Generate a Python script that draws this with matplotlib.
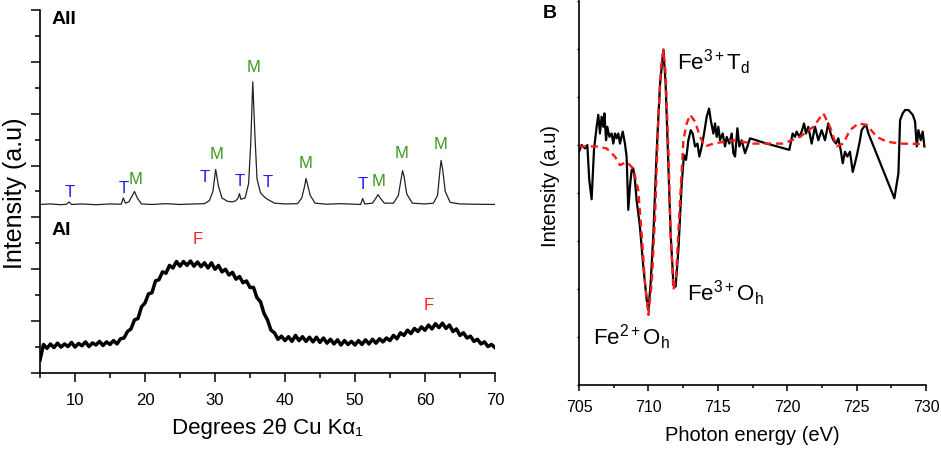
import matplotlib
matplotlib.use("Agg")
import numpy as np
import matplotlib.pyplot as plt
from matplotlib.ticker import MultipleLocator, NullFormatter

plt.rcParams["font.family"] = ["Liberation Sans", "DejaVu Sans"]
plt.rcParams["mathtext.fontset"] = "custom"
plt.rcParams["mathtext.rm"] = "Liberation Sans"
plt.rcParams["mathtext.it"] = "Liberation Sans:italic"
plt.rcParams["mathtext.bf"] = "Liberation Sans:bold"
plt.rcParams["mathtext.default"] = "regular"

# -----------------------------
# Panel A data (XRD patterns)
# -----------------------------

# AII: crystalline sample, offset trace
theta_aii = [5.0, 6.5, 8.0, 8.8, 9.15, 9.5, 11.0, 13.0, 15.0, 16.6, 16.9, 17.2,
             17.7, 18.1, 18.5, 18.9, 19.5, 21.0, 23.0, 25.0, 27.0, 28.5, 29.2,
             29.7, 30.1, 30.5, 31.0, 31.8, 32.5, 33.0, 33.3, 33.5, 33.7, 34.3,
             34.8, 35.1, 35.4, 35.7, 36.0, 36.5, 37.1, 37.5, 38.5, 40.0, 41.8,
             42.4, 42.8, 43.0, 43.2, 43.6, 44.3, 46.0, 48.0, 50.8, 51.1, 51.4,
             52.5, 53.0, 53.3, 53.6, 54.2, 55.5, 56.2, 56.6, 56.8, 57.0, 57.4,
             58.2, 60.0, 61.2, 61.8, 62.1, 62.3, 62.5, 62.9, 63.6, 65.0, 67.0,
             70.0]
int_aii = [6.50, 6.52, 6.49, 6.51, 6.60, 6.50, 6.52, 6.49, 6.52, 6.51, 6.75, 6.55,
           6.60, 6.80, 7.00, 6.75, 6.52, 6.50, 6.53, 6.50, 6.52, 6.53, 6.65,
           7.00, 7.85, 7.20, 6.75, 6.62, 6.60, 6.65, 6.75, 6.92, 6.70, 6.75,
           7.30, 8.80, 11.23, 9.20, 7.50, 6.95, 6.78, 6.70, 6.55, 6.52, 6.53,
           6.75, 7.20, 7.50, 7.30, 6.85, 6.55, 6.51, 6.53, 6.50, 6.73, 6.52,
           6.55, 6.75, 6.88, 6.75, 6.55, 6.55, 6.85, 7.50, 7.80, 7.60, 6.90,
           6.55, 6.52, 6.55, 6.85, 7.70, 8.20, 7.90, 7.00, 6.58, 6.52, 6.51,
           6.50]

# AI: amorphous sample, lower trace (0.5 degree scan steps)
theta_ai = np.arange(5.0, 70.01, 0.5)
int_ai = [0.50, 1.10, 0.95, 1.12, 0.98, 1.15, 1.00, 1.12, 1.02, 1.18,
          1.00, 1.14, 1.05, 1.20, 1.02, 1.16, 1.08, 1.22, 1.06, 1.20,
          1.10, 1.25, 1.12, 1.32, 1.35, 1.60, 1.70, 2.05, 2.10, 2.55,
          2.70, 3.05, 3.10, 3.55, 3.60, 3.90, 3.85, 4.15, 4.05, 4.30,
          4.12, 4.30, 4.15, 4.32, 4.12, 4.28, 4.10, 4.25, 4.05, 4.25,
          4.00, 4.15, 3.90, 4.00, 3.78, 3.88, 3.62, 3.72, 3.48, 3.55,
          3.30, 3.30, 2.90, 2.75, 2.30, 2.05, 1.65, 1.55, 1.30, 1.42,
          1.25, 1.40, 1.22, 1.45, 1.25, 1.40, 1.22, 1.38, 1.20, 1.38,
          1.18, 1.35, 1.15, 1.30, 1.12, 1.28, 1.08, 1.25, 1.10, 1.22,
          1.08, 1.25, 1.10, 1.28, 1.12, 1.30, 1.15, 1.32, 1.20, 1.35,
          1.25, 1.45, 1.32, 1.55, 1.45, 1.65, 1.52, 1.72, 1.60, 1.78,
          1.65, 1.85, 1.70, 1.90, 1.75, 1.92, 1.72, 1.85, 1.60, 1.70,
          1.45, 1.55, 1.35, 1.42, 1.22, 1.30, 1.12, 1.20, 1.02, 1.10,
          0.98]

# phase labels: (2theta, height)
t_labels = [(9.2, 6.96), (16.9, 7.1), (28.6, 7.53), (33.5, 7.4), (37.6, 7.35),
            (51.1, 7.27)]
m_labels = [(18.6, 7.46), (30.2, 8.42), (35.5, 11.77), (43.0, 8.07),
            (53.3, 7.4), (56.6, 8.46), (62.2, 8.8)]
f_labels = [(27.5, 5.15), (60.6, 2.6)]

# -----------------------------
# Panel B data (XMCD spectrum)
# -----------------------------

energy_exp = [705.00, 705.19, 705.43, 705.60, 705.74, 705.91, 706.08, 706.27,
              706.39, 706.51, 706.63, 706.75, 706.83, 706.95, 707.04, 707.19,
              707.35, 707.47, 707.59, 707.71, 707.83, 707.95, 708.15, 708.31,
              708.43, 708.55, 708.67, 708.79, 708.91, 709.03, 709.15, 709.39,
              709.63, 709.88, 710.00, 710.16, 710.36, 710.60, 710.84, 711.08,
              711.24, 711.44, 711.60, 711.80, 711.96, 712.16, 712.40, 712.56,
              712.71, 712.88, 713.05, 713.19, 713.36, 713.53, 713.67, 713.84,
              714.01, 714.20, 714.37, 714.49, 714.68, 714.80, 714.92, 715.04,
              715.16, 715.35, 715.52, 715.64, 715.83, 716.00, 716.12, 716.24,
              716.41, 716.55, 716.72, 716.96, 717.13, 717.32, 718.52, 720.15,
              720.39, 720.56, 720.68, 720.87, 721.04, 721.21, 721.35, 721.52,
              721.76, 722.00, 722.24, 722.48, 722.72, 722.96, 723.13, 723.32,
              723.52, 723.68, 723.85, 724.00, 724.16, 724.33, 724.52, 724.72,
              724.88, 725.05, 725.24, 725.36, 725.53, 725.68, 725.85, 727.72,
              728.01, 728.13, 728.32, 728.49, 728.73, 729.04, 729.21, 729.33,
              729.45, 729.62, 729.76, 729.88]
signal_exp = [4.86, 5.00, 4.93, 5.00, 4.27, 3.87, 4.90, 5.38,
              5.63, 5.24, 5.59, 5.38, 5.66, 5.10, 5.38, 5.17,
              5.24, 5.03, 5.24, 5.14, 5.24, 5.03, 5.28, 5.03,
              4.76, 3.65, 4.13, 4.48, 4.51, 4.27, 3.85, 3.30,
              2.47, 1.77, 1.56, 2.12, 3.16, 4.90, 6.28, 6.99,
              6.28, 4.55, 3.16, 2.12, 2.05, 2.81, 4.20, 4.79,
              4.69, 5.10, 5.31, 5.24, 4.97, 5.03, 4.76, 4.97,
              5.24, 5.59, 5.76, 5.52, 5.24, 5.45, 5.17, 5.38,
              5.10, 5.24, 4.97, 5.17, 5.03, 5.24, 4.83, 4.76,
              5.35, 4.97, 5.10, 4.83, 4.97, 5.14, 5.03, 4.90,
              5.24, 5.17, 5.28, 5.17, 5.28, 5.45, 5.24, 5.38,
              5.03, 5.38, 5.10, 5.31, 5.10, 5.45, 5.24, 5.10,
              5.03, 5.14, 4.90, 4.62, 4.86, 4.76, 4.86, 4.44,
              4.62, 4.83, 5.10, 5.31, 5.38, 5.42, 5.24, 3.89,
              4.41, 5.52, 5.66, 5.73, 5.73, 5.63, 5.49, 4.97,
              5.31, 5.10, 5.28, 4.97]

energy_fit = [705.00, 706.27, 706.99, 707.59, 707.95, 708.43, 708.91, 709.27,
              709.51, 709.76, 710.00, 710.24, 710.48, 710.72, 710.91, 711.08,
              711.24, 711.44, 711.60, 711.80, 711.99, 712.28, 712.52, 712.76,
              713.00, 713.36, 713.72, 714.08, 714.68, 716.12, 717.56, 719.72,
              720.92, 721.88, 722.60, 723.08, 723.56, 724.04, 724.52, 725.12,
              725.73, 726.45, 727.17, 728.13, 729.93]
signal_fit = [4.97, 4.97, 4.93, 4.76, 4.58, 4.65, 4.51, 4.06,
              3.16, 2.12, 1.46, 2.12, 3.51, 5.59, 6.63, 6.98,
              6.49, 4.90, 3.16, 1.98, 2.26, 3.85, 5.10, 5.45,
              5.63, 5.49, 5.17, 4.97, 5.03, 5.10, 5.03, 5.03,
              5.17, 5.38, 5.66, 5.38, 4.97, 5.03, 5.31, 5.45,
              5.42, 5.17, 5.07, 5.03, 5.02]

# -----------------------------
# Figure
# -----------------------------

fig = plt.figure(figsize=(9.41, 4.5), dpi=100)

ax1 = fig.add_axes([0.0425, 0.1711, 0.4835, 0.8067])
ax2 = fig.add_axes([0.6153, 0.1444, 0.3688, 0.8533])

# ----- panel A -----
ax1.plot(theta_aii, int_aii, color="#222222", lw=0.9)
ax1.plot(theta_ai, int_ai, color="black", lw=2.5)

for x, y in t_labels:
    ax1.text(x, y, "T", color="#1c1cf0", fontsize=12, ha="center", va="center")
for x, y in m_labels:
    ax1.text(x, y, "M", color="#3c9a1c", fontsize=12, ha="center", va="center")
for x, y in f_labels:
    ax1.text(x, y, "F", color="#ff2020", fontsize=12, ha="center", va="center")

ax1.text(6.7, 13.65, "AII", fontsize=14, fontweight="bold", va="center")
ax1.text(6.7, 5.5, "AI", fontsize=14, fontweight="bold", va="center")

ax1.set_xlim(5, 70)
ax1.set_ylim(0, 14)
ax1.xaxis.set_major_locator(MultipleLocator(10))
ax1.xaxis.set_minor_locator(MultipleLocator(5))
ax1.yaxis.set_major_locator(MultipleLocator(2))
ax1.yaxis.set_minor_locator(MultipleLocator(1))
ax1.yaxis.set_major_formatter(NullFormatter())
ax1.tick_params(axis="both", which="major", direction="out", length=6.5,
                width=1.1, labelsize=12, pad=8)
ax1.tick_params(axis="both", which="minor", direction="out", length=3.5,
                width=1.1)
for side in ["top", "right"]:
    ax1.spines[side].set_visible(False)
for side in ["left", "bottom"]:
    ax1.spines[side].set_linewidth(1.2)

ax1.set_xlabel("Degrees 2θ Cu Kα₁", fontsize=16, labelpad=7)
fig.text(0.016, 1 - 193 / 450, "Intensity (a.u)", fontsize=18, rotation=90,
         ha="center", va="center")

# ----- panel B -----
ax2.plot(energy_exp, signal_exp, color="black", lw=1.6)
ax2.plot(energy_fit, signal_fit, color="#ff1a1a", lw=1.7, dashes=(3, 2))

ax2.text(712.05, 6.73, r"Fe$^{3+}$T$_{d}$", fontsize=16, va="center")
ax2.text(712.8, 1.91, r"Fe$^{3+}$O$_{h}$", fontsize=16, va="center")
ax2.text(706.0, 1.0, r"Fe$^{2+}$O$_{h}$", fontsize=16, va="center")

ax2.set_xlim(705, 730)
ax2.set_ylim(0, 8)
ax2.xaxis.set_major_locator(MultipleLocator(5))
ax2.xaxis.set_minor_locator(MultipleLocator(2.5))
ax2.yaxis.set_major_locator(MultipleLocator(1))
ax2.yaxis.set_major_formatter(NullFormatter())
ax2.tick_params(axis="x", which="major", direction="out", length=4.5,
                width=1.1, labelsize=11.5, pad=6)
ax2.tick_params(axis="x", which="minor", direction="out", length=2.5,
                width=1.1)
ax2.tick_params(axis="y", which="major", direction="out", length=1.5,
                width=1.0)
for side in ["top", "right"]:
    ax2.spines[side].set_visible(False)
for side in ["left", "bottom"]:
    ax2.spines[side].set_linewidth(1.2)

ax2.set_xlabel("Photon energy (eV)", fontsize=14.5, labelpad=8)
fig.text(550 / 941, 1 - 186 / 450, "Intensity (a.u)", fontsize=14.5,
         rotation=90, ha="center", va="center")
fig.text(543 / 941, 1 - 14 / 450, "B", fontsize=14, fontweight="bold",
         va="center")

plt.savefig("out.png", dpi=100)
